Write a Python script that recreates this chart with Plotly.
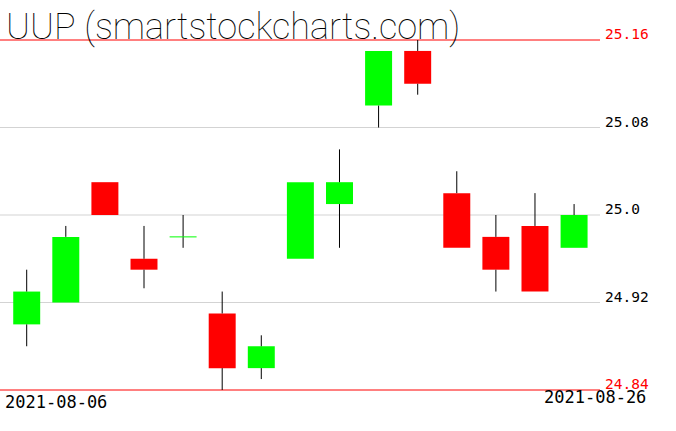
import plotly.graph_objects as go

# ---- data ----
dates = ["2021-08-06", "2021-08-09", "2021-08-10", "2021-08-11", "2021-08-12",
         "2021-08-13", "2021-08-16", "2021-08-17", "2021-08-18", "2021-08-19",
         "2021-08-20", "2021-08-23", "2021-08-24", "2021-08-25", "2021-08-26"]
opens  = [24.90, 24.92, 25.03, 24.96, 24.98, 24.91, 24.86, 24.96, 25.01, 25.10,
          25.15, 25.02, 24.98, 24.99, 24.97]
highs  = [24.95, 24.99, 25.03, 24.99, 25.00, 24.93, 24.89, 25.03, 25.06, 25.15,
          25.16, 25.04, 25.00, 25.02, 25.01]
lows   = [24.88, 24.92, 25.00, 24.933, 24.97, 24.84, 24.85, 24.96, 24.97, 25.08,
          25.11, 24.97, 24.93, 24.93, 24.97]
closes = [24.93, 24.98, 25.00, 24.95, 24.98, 24.86, 24.88, 25.03, 25.03, 25.15,
          25.12, 24.97, 24.95, 24.93, 25.00]

title_text = "UUP (smartstockcharts.com)"
level_values = [25.16, 25.08, 25.00, 24.92, 24.84]
level_labels = ["25.16", "25.08", "25.0", "24.92", "24.84"]
level_is_bound = [True, False, False, False, True]

# ---- styles ----
UP = "#00ff00"
DOWN = "#ff0000"
BODY_W = 0.69
FONT = "DejaVu Sans Mono"

n = len(dates)
idx = list(range(n))

fig = go.Figure()

# wicks (split into parts above and below body)
wx, wy = [], []
for i in idx:
    top = max(opens[i], closes[i])
    bot = min(opens[i], closes[i])
    if highs[i] > top:
        wx += [i, i, None]; wy += [top, highs[i], None]
    if lows[i] < bot:
        wx += [i, i, None]; wy += [lows[i], bot, None]
fig.add_trace(go.Scatter(x=wx, y=wy, mode="lines",
                         line=dict(color="black", width=1),
                         hoverinfo="skip", showlegend=False))

# bodies
for i in idx:
    if closes[i] == opens[i]:
        fig.add_trace(go.Scatter(x=[i - BODY_W / 2, i + BODY_W / 2],
                                 y=[closes[i], closes[i]], mode="lines",
                                 line=dict(color=UP, width=1),
                                 hoverinfo="skip", showlegend=False))
fig.add_trace(go.Bar(
    x=idx,
    base=[min(o, c) for o, c in zip(opens, closes)],
    y=[abs(c - o) for o, c in zip(opens, closes)],
    width=BODY_W,
    marker=dict(color=[UP if c >= o else DOWN for o, c in zip(opens, closes)],
                line=dict(width=0)),
    hoverinfo="skip", showlegend=False))

# level lines & labels
for v, lab, b in zip(level_values, level_labels, level_is_bound):
    col = "#ff0000" if b else "#d3d3d3"
    fig.add_shape(type="line", xref="paper", x0=0, x1=1, yref="y", y0=v, y1=v,
                  line=dict(color=col, width=1), layer="below")
    fig.add_annotation(xref="paper", x=1, y=v, yref="y", text=lab,
                       xanchor="left", yanchor="bottom", showarrow=False,
                       xshift=3, yshift=-4,
                       font=dict(family=FONT, size=14.5,
                                 color="#ff0000" if b else "black"))

# date labels
fig.add_annotation(xref="paper", yref="paper", x=0, y=0, text=dates[0],
                   xanchor="left", yanchor="bottom", showarrow=False,
                   xshift=3, yshift=17, font=dict(family=FONT, size=17, color="black"))
fig.add_annotation(xref="paper", yref="paper", x=1, y=0, text=dates[-1],
                   xanchor="right", yanchor="bottom", showarrow=False,
                   xshift=48, yshift=22, font=dict(family=FONT, size=17, color="black"))

# title
fig.add_annotation(xref="paper", yref="paper", x=0, y=1, text=title_text,
                   xanchor="left", yanchor="top", showarrow=False,
                   xshift=4, yshift=-4,
                   font=dict(family="Roboto", size=36, color="black", weight=100))

px_per_unit = 350 / (level_values[0] - level_values[-1])
fig.update_layout(
    width=676, height=431,
    margin=dict(l=0, r=76, t=0, b=0),
    paper_bgcolor="white", plot_bgcolor="white",
    barmode="overlay",
    xaxis=dict(range=[-0.683, 14.663], showgrid=False, zeroline=False,
               showticklabels=False, showline=False, fixedrange=True),
    yaxis=dict(range=[level_values[-1] - 41 / px_per_unit,
                      level_values[0] + 40 / px_per_unit],
               showgrid=False, zeroline=False, showticklabels=False,
               showline=False, fixedrange=True),
    showlegend=False,
)

fig.write_html("out.html", config={"displayModeBar": False},
               post_script="document.body.style.margin='0';document.body.style.overflow='hidden';")
